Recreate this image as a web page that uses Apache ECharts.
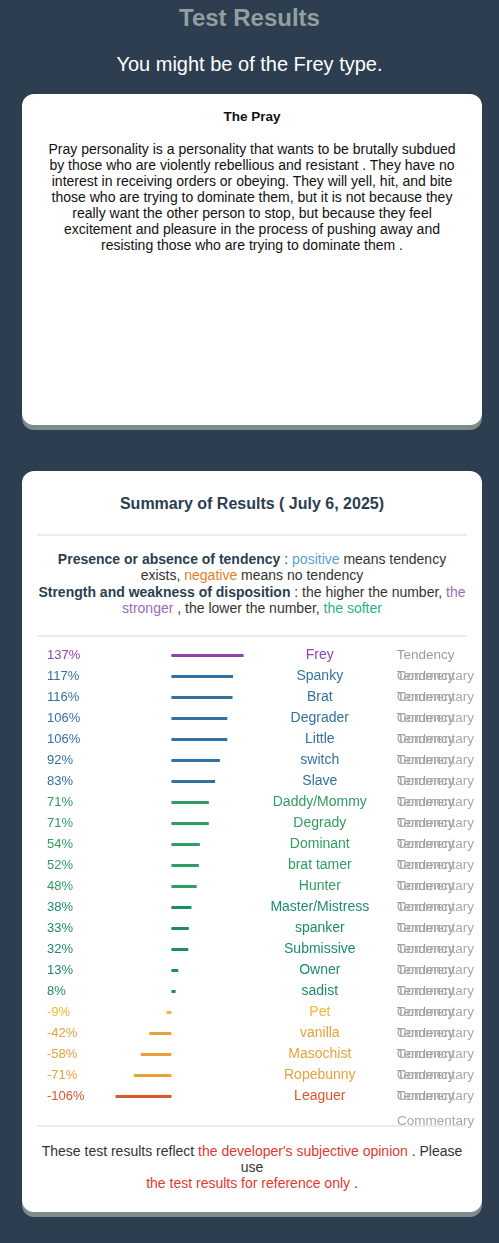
<!DOCTYPE html>
<html>
<head>
<meta charset="utf-8">
<script src="https://cdn.jsdelivr.net/npm/echarts@6/dist/echarts.min.js"></script>
<style>
  html, body { margin:0; padding:0; }
  body { width:499px; height:1243px; background:#2c3e50; position:relative; overflow:hidden;
         font-family:"Liberation Sans", Arial, sans-serif; }
  .abs { position:absolute; }
  .title { left:0; width:499px; top:4px; text-align:center; font-size:24px; line-height:28px; font-weight:bold; color:#929fa1; }
  .sub { left:0; width:499px; top:52px; text-align:center; font-size:20px; line-height:24px; color:#fff; }
  .card { background:#fff; border-radius:12px; box-shadow:0 5px 0 #7f8c8d; }
  .c { left:0; width:460px; text-align:center; white-space:nowrap; }
  .hr { height:2px; background:#ececec; }
  b { color:#2c3e50; }
</style>
</head>
<body>
<div class="abs title">Test Results</div>
<div class="abs sub">You might be of the Frey type.</div>

<div class="abs card" style="left:22px;top:94px;width:460px;height:331px;">
  <div class="abs c" style="top:15px;font-size:13.5px;line-height:16px;font-weight:bold;color:#111;">The Pray</div>
  <div class="abs c" style="top:47px;font-size:14px;line-height:16px;color:#111;">
    Pray personality is a personality that wants to be brutally subdued<br>
    by those who are violently rebellious and resistant . They have no<br>
    interest in receiving orders or obeying. They will yell, hit, and bite<br>
    those who are trying to dominate them, but it is not because they<br>
    really want the other person to stop, but because they feel<br>
    excitement and pleasure in the process of pushing away and<br>
    resisting those who are trying to dominate them .
  </div>
</div>

<div class="abs card" style="left:22px;top:471px;width:460px;height:741px;">
  <div class="abs c" style="top:23px;font-size:16px;line-height:20px;font-weight:bold;color:#2c3e50;">Summary of Results ( July 6, 2025)</div>
  <div class="abs hr" style="left:15px;width:430px;top:63px;"></div>
  <div class="abs c" style="top:80px;font-size:14px;line-height:16.4px;color:#333;">
    <b>Presence or absence of tendency</b> : <span style="color:#5b9fd0">positive</span> means tendency<br>
    exists, <span style="color:#e67e22">negative</span> means no tendency<br>
    <b>Strength and weakness of disposition</b> : the higher the number, <span style="color:#9b6bb5">the</span><br>
    <span style="color:#9b6bb5">stronger</span> , the lower the number, <span style="color:#27b38a">the softer</span>
  </div>
  <div class="abs hr" style="left:15px;width:430px;top:164px;"></div>
  <div class="abs hr" style="left:15px;width:430px;top:654px;"></div>
  <div class="abs c" style="top:672px;font-size:14px;line-height:16px;color:#333;">
    These test results reflect <span style="color:#e03a2f">the developer's subjective opinion</span> . Please<br>
    use<br>
    <span style="color:#e03a2f">the test results for reference only</span> .
  </div>
</div>

<div id="chart" class="abs" style="left:0;top:641px;width:499px;height:490px;"></div>

<script>
const categories = ["Frey","Spanky","Brat","Degrader","Little","switch","Slave","Daddy/Mommy","Degrady","Dominant","brat tamer","Hunter","Master/Mistress","spanker","Submissive","Owner","sadist","Pet","vanilla","Masochist","Ropebunny","Leaguer"];
const values = [137,117,116,106,106,92,83,71,71,54,52,48,38,33,32,13,8,-9,-42,-58,-71,-106];
const tendencyLabel = "Tendency";
const commentaryLabel = "Commentary";

function colorFor(v) {
  if (v >= 130) return '#8e44ad';
  if (v >= 80) return '#33729f';
  if (v >= 45) return '#2f9e62';
  if (v >= 0) return '#1d8c6e';
  if (v > -20) return '#f0b730';
  if (v > -100) return '#e8a13b';
  return '#d9572b';
}
const FONT = '"Liberation Sans", Arial, sans-serif';
const chart = echarts.init(document.getElementById('chart'), null, {renderer:'canvas'});
const gridLeft = 66, gridTop = 4, gridH = 462;
chart.setOption({
  animation:false,
  grid:{ left:gridLeft, top:gridTop, width:210.8, height:gridH },
  xAxis:{ type:'value', min:-200, max:200, show:false },
  yAxis:[
    { type:'category', data:categories, inverse:true, position:'left',
      axisLine:{show:false}, axisTick:{show:false}, splitLine:{show:false},
      axisLabel:{ interval:0, margin:19, align:'left', fontSize:13, fontFamily:FONT,
        formatter:(v,i)=>values[i]+'%', color:(v,i)=>colorFor(values[i]) } },
    { type:'category', data:categories, inverse:true, position:'right',
      axisLine:{show:false}, axisTick:{show:false},
      axisLabel:{ interval:0, margin:43, align:'center', fontSize:14, fontFamily:FONT,
        padding:[6,0,0,0], color:(v,i)=>colorFor(values[i]) } },
    { type:'category', data:categories, inverse:true, position:'right',
      axisLine:{show:false}, axisTick:{show:false},
      axisLabel:{ interval:0, margin:120, align:'left', fontSize:13.5, fontFamily:FONT,
        padding:[6,0,0,0], color:'#9b9b9b', formatter:()=>tendencyLabel } },
    { type:'category', data:categories, inverse:true, position:'right',
      axisLine:{show:false}, axisTick:{show:false},
      axisLabel:{ interval:0, margin:120, align:'left', fontSize:13.5, fontFamily:FONT,
        padding:[6,0,0,0], color:'#a8a8a8', formatter:(v,i)=>i>0?commentaryLabel:'' } }
  ],
  series:[{
    type:'bar', yAxisIndex:0, data:values, barWidth:3,
    itemStyle:{ color:(p)=>colorFor(p.value) }
  }],
  graphic:[{
    type:'text', left:397, top:gridTop+gridH+7,
    style:{ text:commentaryLabel, fill:'#a8a8a8', font:'13.5px '+FONT }
  }]
});
</script>
</body>
</html>
